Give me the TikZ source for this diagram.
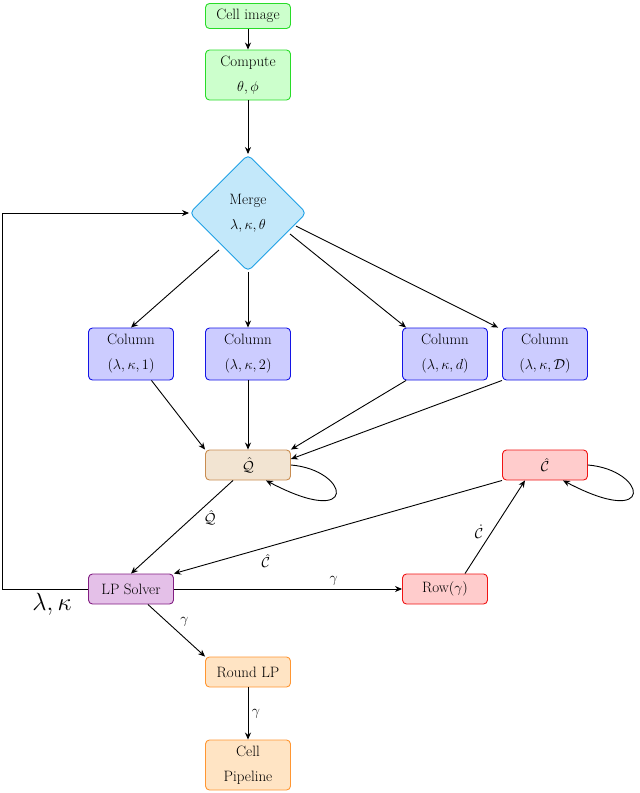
\documentclass[tikz,border=0pt]{standalone}
\usepackage{amsmath}
\usetikzlibrary{shapes.geometric,arrows.meta}
\definecolor{gfill}{RGB}{204,255,204}\definecolor{gdraw}{RGB}{40,220,40}
\definecolor{dfill}{RGB}{195,232,250}\definecolor{ddraw}{RGB}{30,160,230}
\definecolor{bfill}{RGB}{204,204,255}\definecolor{bdraw}{RGB}{20,20,230}
\definecolor{qfill}{RGB}{242,228,210}\definecolor{qdraw}{RGB}{200,140,80}
\definecolor{rfill}{RGB}{255,204,204}\definecolor{rdraw}{RGB}{240,20,20}
\definecolor{pfill}{RGB}{228,192,232}\definecolor{pdraw}{RGB}{130,30,130}
\definecolor{ofill}{RGB}{255,228,196}\definecolor{odraw}{RGB}{255,150,50}
\tikzset{
 box/.style={draw,rounded corners=4pt,line width=0.9pt,minimum width=85pt,inner sep=2pt,align=center,font=\fontsize{15}{25}\selectfont},
 gbox/.style={box,fill=gfill,draw=gdraw},
 bbox/.style={box,fill=bfill,draw=bdraw,minimum height=52pt},
 qbox/.style={box,fill=qfill,draw=qdraw,minimum height=30pt},
 rbox/.style={box,fill=rfill,draw=rdraw,minimum height=30pt},
 pbox/.style={box,fill=pfill,draw=pdraw,minimum height=30pt},
 obox/.style={box,fill=ofill,draw=odraw},
 arr/.style={-{Stealth[length=7pt,width=6pt]},line width=0.9pt},
 lab/.style={font=\fontsize{14}{16}\selectfont}
}
\begin{document}
\begin{tikzpicture}[x=1pt,y=-1pt]
\useasboundingbox (0,0) rectangle (640,793);
\node[gbox,minimum height=25pt] (cell) at (248,16) {Cell image};
\node[gbox,minimum height=50pt] (comp) at (248,75) {Compute\\$\theta,\phi$};
\node[diamond,draw=ddraw,fill=dfill,line width=0.9pt,rounded corners=5pt,minimum width=117pt,minimum height=117pt,inner sep=0pt,align=center,font=\fontsize{15}{25}\selectfont] (merge) at (248,213) {Merge\\$\lambda,\kappa,\theta$};
\node[bbox] (c1) at (131,354) {Column\\$(\lambda,\kappa,1)$};
\node[bbox] (c2) at (248,354) {Column\\$(\lambda,\kappa,2)$};
\node[bbox] (c3) at (445,354) {Column\\$(\lambda,\kappa,d)$};
\node[bbox] (c4) at (545,354) {Column\\$(\lambda,\kappa,\mathcal{D})$};
\node[qbox] (q) at (248,465) {$\hat{\mathcal{Q}}$};
\node[rbox] (ch) at (545,465) {$\hat{\mathcal{C}}$};
\node[pbox] (lp) at (131,589) {LP Solver};
\node[rbox] (row) at (445,589) {Row$(\gamma)$};
\node[obox,minimum height=30pt] (rlp) at (248,672) {Round LP};
\node[obox,minimum height=50pt] (pipe) at (248,765) {Cell\\Pipeline};
\coordinate (m1) at (219,250);
\coordinate (m3) at (290,234);
\coordinate (m4) at (296,226);
\draw[arr] (cell) -- (comp);
\draw[arr] (comp) -- (merge);
\draw[arr] (m1) -- (c1.north);
\draw[arr] (merge) -- (c2);
\draw[arr] (m3) -- ([xshift=4pt]c3.north west);
\draw[arr] (m4) -- ([xshift=-4pt]c4.north west);
\draw[arr] (c1) -- (q.north west);
\draw[arr] (c2) -- (q);
\draw[arr] ([xshift=4pt]c3.south west) -- (q.north east);
\draw[arr] (c4.south west) -- ([yshift=6pt]q.east);
\draw[arr] (q.east) .. controls (350,470) and (360,530) .. ([xshift=18pt]q.south);
\draw[arr] (ch.east) .. controls (647,470) and (657,530) .. ([xshift=18pt]ch.south);
\draw[arr] ([xshift=-15pt]q.south) -- node[lab,pos=0.4,right=8pt] {$\hat{\mathcal{Q}}$} (lp.north);
\draw[arr] (ch.south west) -- node[lab,pos=0.72,below=3pt] {$\hat{\mathcal{C}}$} (lp.north east);
\draw[arr] (lp) -- node[lab,above,pos=0.7] {$\gamma$} (row);
\draw[arr] ([xshift=20pt]row.north) -- node[lab,left=5pt,pos=0.45] {$\dot{\mathcal{C}}$} ([xshift=-20pt]ch.south);
\draw[arr] (lp) -- node[lab,above right] {$\gamma$} (rlp.north west);
\draw[arr] (rlp) -- node[lab,right] {$\gamma$} (pipe);
\draw[arr] (lp.west) -- (2,589) -- (2,213) -- (merge.west);
\node[font=\fontsize{26}{28}\selectfont] (lk) at (52,604) {$\lambda,\kappa$};
\end{tikzpicture}
\end{document}
